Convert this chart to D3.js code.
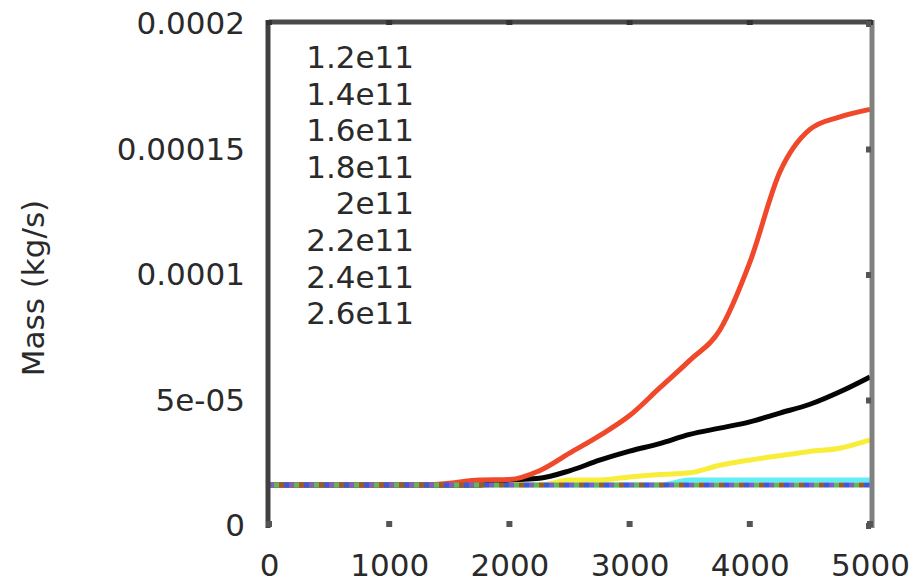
<!DOCTYPE html>
<html>
<head>
<meta charset="utf-8">
<script src="https://cdn.jsdelivr.net/npm/d3@7"></script>
<style>
  html, body { margin: 0; padding: 0; background: #fff; }
  svg { display: block; }
  text { font-family: "DejaVu Sans", sans-serif; }
</style>
</head>
<body>
<svg id="chart" width="916" height="584"></svg>
<script>
// ---- data ----
const xValues = [0, 250, 500, 750, 1000, 1250, 1500, 1750, 2000, 2250, 2500,
                 2750, 3000, 3250, 3500, 3750, 4000, 4250, 4500, 4750, 5000];

const seriesNames = ["1.2e11", "1.4e11", "1.6e11", "1.8e11", "2e11", "2.2e11", "2.4e11", "2.6e11"];

const s12 = [1.63e-5,1.63e-5,1.63e-5,1.63e-5,1.63e-5,1.63e-5,1.63e-5,1.63e-5,1.63e-5,1.63e-5,1.63e-5,
             1.63e-5,1.63e-5,1.63e-5,1.63e-5,1.63e-5,1.63e-5,1.63e-5,1.63e-5,1.63e-5,1.63e-5];
const s14 = [1.63e-5,1.63e-5,1.63e-5,1.63e-5,1.63e-5,1.63e-5,1.63e-5,1.63e-5,1.63e-5,1.63e-5,1.63e-5,
             1.63e-5,1.63e-5,1.63e-5,1.63e-5,1.63e-5,1.63e-5,1.63e-5,1.63e-5,1.63e-5,1.63e-5];
const s16 = [1.63e-5,1.63e-5,1.63e-5,1.63e-5,1.63e-5,1.63e-5,1.63e-5,1.63e-5,1.63e-5,1.63e-5,1.63e-5,
             1.63e-5,1.63e-5,1.63e-5,1.63e-5,1.63e-5,1.63e-5,1.63e-5,1.63e-5,1.63e-5,1.63e-5];
const s18 = [1.63e-5,1.63e-5,1.63e-5,1.63e-5,1.63e-5,1.63e-5,1.63e-5,1.63e-5,1.63e-5,1.63e-5,1.63e-5,
             1.63e-5,1.63e-5,1.63e-5,1.63e-5,1.63e-5,1.63e-5,1.63e-5,1.63e-5,1.63e-5,1.63e-5];
const s20 = [1.63e-5,1.63e-5,1.63e-5,1.63e-5,1.63e-5,1.63e-5,1.63e-5,1.63e-5,1.63e-5,1.63e-5,1.63e-5,
             1.63e-5,1.63e-5,1.63e-5,1.83e-5,1.83e-5,1.83e-5,1.83e-5,1.83e-5,1.83e-5,1.83e-5];
const s22 = [1.63e-5,1.63e-5,1.63e-5,1.63e-5,1.63e-5,1.63e-5,1.63e-5,1.63e-5,1.63e-5,1.63e-5,1.83e-5,
             1.83e-5,1.95e-5,2.05e-5,2.12e-5,2.42e-5,2.63e-5,2.80e-5,2.97e-5,3.10e-5,3.43e-5];
const s24 = [1.63e-5,1.63e-5,1.63e-5,1.63e-5,1.63e-5,1.63e-5,1.63e-5,1.63e-5,1.83e-5,1.90e-5,2.20e-5,
             2.62e-5,2.98e-5,3.28e-5,3.65e-5,3.90e-5,4.15e-5,4.50e-5,4.85e-5,5.35e-5,5.94e-5];
const s26 = [1.63e-5,1.63e-5,1.63e-5,1.63e-5,1.63e-5,1.63e-5,1.70e-5,1.83e-5,1.85e-5,2.20e-5,2.90e-5,
             3.60e-5,4.40e-5,5.50e-5,6.60e-5,7.80e-5,10.5e-5,14.1e-5,15.8e-5,16.3e-5,16.6e-5];

const xTicks = [0, 1000, 2000, 3000, 4000, 5000];
const yTicks = [0, 5e-5, 1e-4, 1.5e-4, 2e-4];
const yTickLabels = ["0", "5e-05", "0.0001", "0.00015", "0.0002"];
const yLabel = "Mass (kg/s)";

// ---- layout ----
const svg = d3.select("#chart");
const L = 269, R = 870, T = 24, B = 526;
const x = d3.scaleLinear().domain([0, 5000]).range([L, R]);
const y = d3.scaleLinear().domain([0, 2e-4]).range([B, T]);

const rising = [
  { data: s20, color: "#62eef6" },
  { data: s22, color: "#f8ee3a" },
  { data: s24, color: "#050505" },
  { data: s26, color: "#f0482a" }
];
const flat = [
  { data: s12, color: "#7a62c4" },
  { data: s14, color: "#5fb85a" },
  { data: s16, color: "#9a5a34" },
  { data: s18, color: "#3d5ad8" }
];

const line = d3.line()
  .x((d, i) => x(xValues[i]))
  .y(d => y(d))
  .curve(d3.curveMonotoneX);

const plot = svg.append("g");
rising.forEach(s => {
  plot.append("path").attr("d", line(s.data))
    .attr("fill", "none").attr("stroke", s.color).attr("stroke-width", 5)
    .attr("stroke-linejoin", "round");
});
flat.forEach((s, i) => {
  plot.append("path").attr("d", line(s.data))
    .attr("fill", "none").attr("stroke", s.color).attr("stroke-width", 5)
    .attr("stroke-dasharray", "5 15").attr("stroke-dashoffset", -i * 5);
});

// ---- frame ----
svg.append("line").attr("x1", L).attr("x2", R + 2).attr("y1", T - 2).attr("y2", T - 2)
  .attr("stroke", "#4a4a4a").attr("stroke-width", 5);
svg.append("line").attr("x1", L - 1).attr("x2", L - 1).attr("y1", T - 4).attr("y2", B + 2)
  .attr("stroke", "#404040").attr("stroke-width", 5);
svg.append("line").attr("x1", R + 2).attr("x2", R + 2).attr("y1", T - 4).attr("y2", B + 2)
  .attr("stroke", "#808080").attr("stroke-width", 5);

// ---- axes ----
const xAxis = d3.axisBottom(x).tickValues(xTicks).tickSize(0).tickPadding(28)
  .tickFormat(d3.format("d"));
const gx = svg.append("g").attr("transform", `translate(0,${B})`).call(xAxis);
gx.select(".domain").remove();
gx.selectAll("text").attr("font-size", 31).attr("fill", "#2a2a2a")
  .attr("font-family", "DejaVu Sans");

const yAxis = d3.axisLeft(y).tickValues(yTicks).tickSize(0).tickPadding(24)
  .tickFormat((d, i) => yTickLabels[i]);
const gy = svg.append("g").attr("transform", `translate(${L},0)`).call(yAxis);
gy.select(".domain").remove();
gy.selectAll("text").attr("font-size", 31).attr("fill", "#2a2a2a")
  .attr("font-family", "DejaVu Sans");

// small tick marks (inward) on bottom, top, right
const tickG = svg.append("g");
xTicks.forEach(v => {
  tickG.append("rect").attr("x", x(v) - 3).attr("y", B - 5).attr("width", 6).attr("height", 6).attr("fill", "#555");
  tickG.append("rect").attr("x", x(v) - 3).attr("y", T - 4).attr("width", 6).attr("height", 5).attr("fill", "#333");
});
yTicks.forEach(v => {
  tickG.append("rect").attr("x", R - 4).attr("y", y(v) - 3).attr("width", 5).attr("height", 6).attr("fill", "#555");
});

// ---- y label ----
svg.append("text")
  .attr("transform", `translate(44,288) rotate(-90)`)
  .attr("text-anchor", "middle").attr("font-size", 31).attr("fill", "#2a2a2a")
  .text(yLabel);

// ---- legend ----
const leg = svg.append("g");
seriesNames.forEach((name, i) => {
  leg.append("text").attr("x", 414).attr("y", 68 + i * 36.6)
    .attr("text-anchor", "end").attr("font-size", 31).attr("fill", "#2a2a2a")
    .text(name);
});
</script>
</body>
</html>
